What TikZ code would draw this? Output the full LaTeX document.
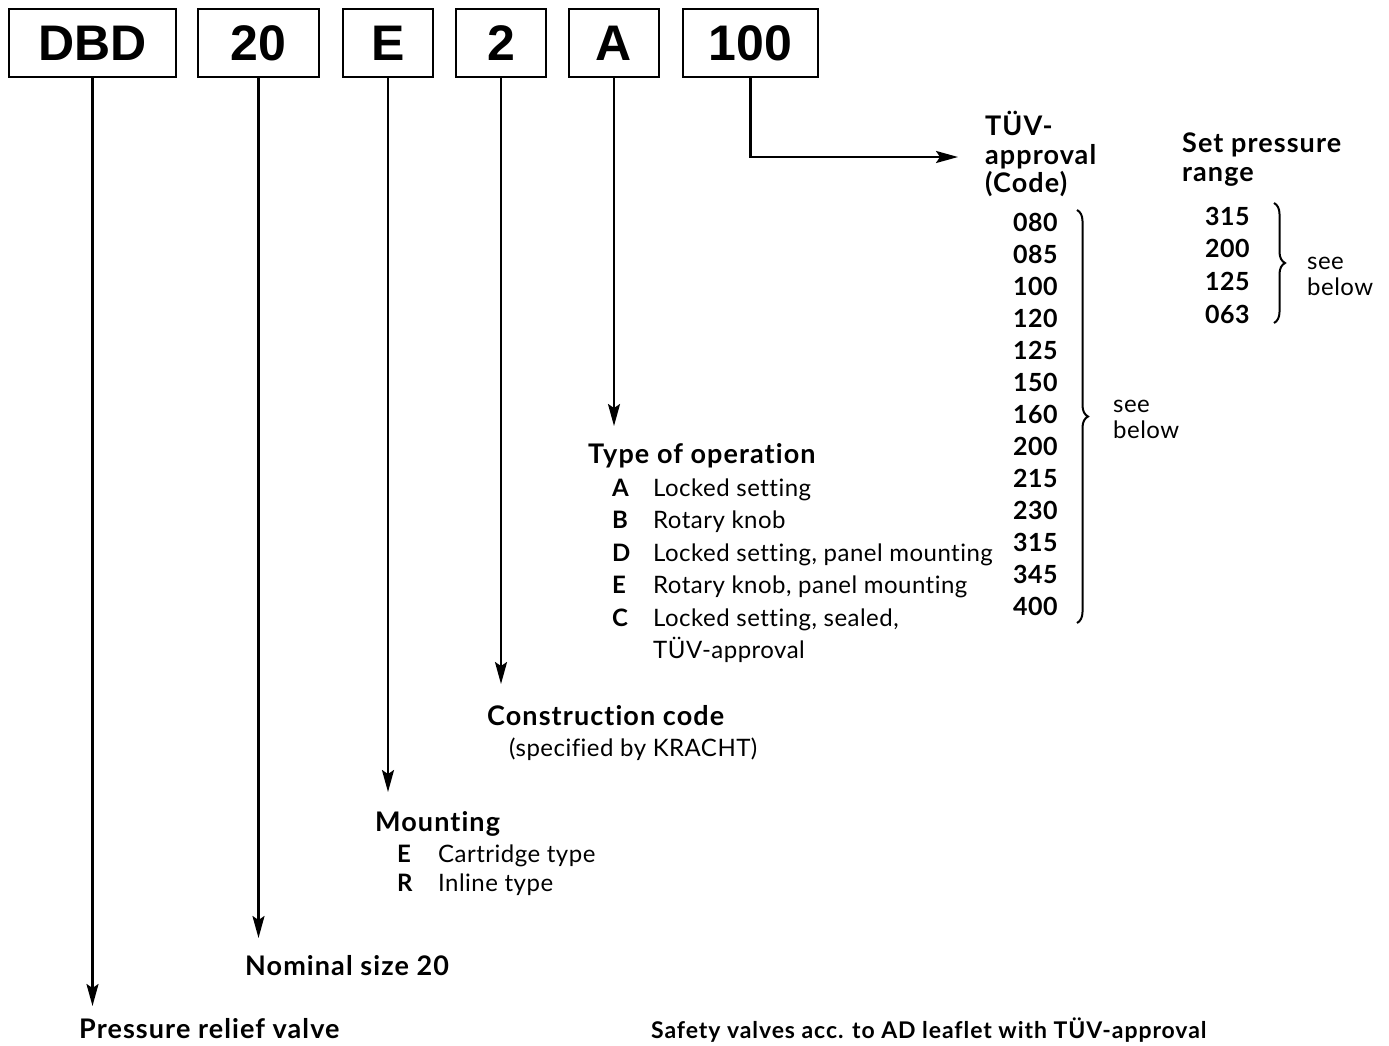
\documentclass[tikz,border=0pt]{standalone}
\usepackage{fontspec}
\setmainfont[Ligatures=NoCommon]{Lato}
\newfontfamily\headfont[Ligatures=NoCommon, LetterSpace=4]{Lato}
\newfontfamily\txtfont[Ligatures=NoCommon, LetterSpace=2]{Lato}
\newfontfamily\boxfont{Liberation Sans}
\usetikzlibrary{arrows.meta,decorations.pathreplacing}

\begin{document}
\begin{tikzpicture}[x=1pt, y=-1pt,
  >={Stealth[length=22pt,width=12pt,inset=4pt]},
  codebox/.style={draw, line width=1.6pt, inner sep=0pt, minimum height=68pt,
    font=\boxfont\bfseries\fontsize{50}{50}\selectfont},
  arr/.style={->, line width=2.2pt},
  head/.style={anchor=base west, inner sep=0pt, font=\headfont\bfseries\fontsize{27}{30}\selectfont},
  txt/.style={anchor=base west, inner sep=0pt, font=\txtfont\fontsize{24}{28}\selectfont},
  key/.style={anchor=base west, inner sep=0pt, font=\bfseries\fontsize{24}{28}\selectfont},
  num/.style={anchor=base west, inner sep=0pt, font=\txtfont\bfseries\fontsize{25}{28}\selectfont},
  curly/.style={decorate, decoration={brace, amplitude=11pt}, line width=2pt}]
  \useasboundingbox (0,0) rectangle (1389,1045);

  % code boxes
  \node[codebox, minimum width=167pt] (DBD) at (92.5,43) {DBD};
  \node[codebox, minimum width=121pt] (NS)  at (258.5,43) {20};
  \node[codebox, minimum width=90pt]  (MT)  at (388,43) {E};
  \node[codebox, minimum width=90pt]  (CC)  at (501,43) {2};
  \node[codebox, minimum width=90pt]  (TO)  at (614,43) {A};
  \node[codebox, minimum width=135pt] (TUV) at (750.5,43) {100};

  % arrow ends
  \coordinate (pr) at (92.5,1006);
  \coordinate (ns) at (258.5,938);
  \coordinate (mt) at (388,792);
  \coordinate (cc) at (501,684);
  \coordinate (to) at (614,426);
  \coordinate (tv) at (958,157);

  \draw[arr] (DBD.south) -- (pr);
  \draw[arr] (NS.south) -- (ns);
  \draw[arr] (MT.south) -- (mt);
  \draw[arr] (CC.south) -- (cc);
  \draw[arr] (TO.south) -- (to);
  \draw[arr] (TUV.south) |- (tv);

  % labels
  \node[head] (prl) at (79,1038) {Pressure relief valve};
  \node[head] (nsl) at (245,975) {Nominal size 20};

  \node[head] (mtl) at (375,831) {Mounting};
  \node[key] at (397,862) {E}; \node[txt] at (438,862) {Cartridge type};
  \node[key] at (397,891) {R}; \node[txt] at (438,891) {Inline type};

  \node[head] (ccl) at (487,725) {Construction code};
  \node[txt] at (509,756) {(specified by KRACHT)};

  \node[head] (tol) at (588,463) {Type of operation};
  \foreach \k/\t [count=\i from 0] in {A/Locked setting, B/Rotary knob,
      D/{Locked setting, panel mounting}, E/{Rotary knob, panel mounting},
      C/{Locked setting, sealed,}}{
    \node[key] at (612,{496+32.5*\i}) {\k};
    \node[txt] at (653,{496+32.5*\i}) {\t};
  }
  \node[txt] at (653,658.5) {TÜV-approval};

  % TUV approval codes
  \node[head] at (985,135) {TÜV-};
  \node[head] at (985,164) {approval};
  \node[head] at (985,192) {(Code)};
  \foreach \v [count=\i from 0] in {080,085,100,120,125,150,160,200,215,230,315,345,400}
    \node[num] (c\i) at (1013,{231+32*\i}) {\v};
  \draw[curly] (1077,210) -- (1077,623);
  \node[txt] at (1113,412) {see};
  \node[txt] at (1113,438) {below};

  % set pressure range
  \node[head] at (1182,152) {Set pressure};
  \node[head] at (1182,181) {range};
  \foreach \v [count=\i from 0] in {315,200,125,063}
    \node[num] (p\i) at (1205,{225+32.7*\i}) {\v};
  \draw[curly] (1274,203) -- (1274,323);
  \node[txt] at (1307,269) {see};
  \node[txt] at (1307,295) {below};

  \node[anchor=base west, inner sep=0pt, font=\headfont\bfseries\fontsize{23}{24}\selectfont]
    (sv) at (651,1038) {Safety valves acc. to AD leaflet with TÜV-approval};
\end{tikzpicture}
\end{document}
